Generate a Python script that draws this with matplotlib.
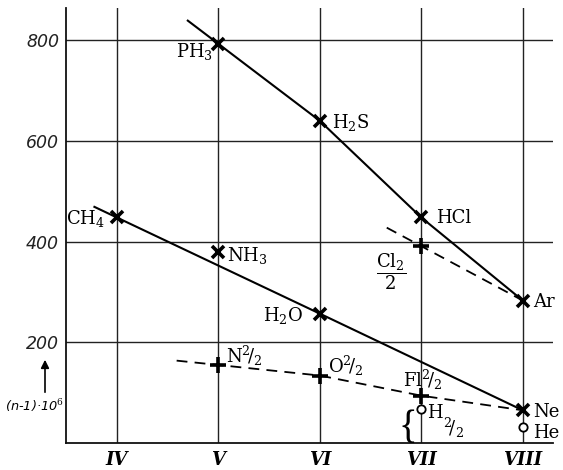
import matplotlib
matplotlib.use('Agg')
import matplotlib.pyplot as plt
import numpy as np

# ---------------- data ----------------
group_labels = ['IV', 'V', 'VI', 'VII', 'VIII']
group_pos = [4, 5, 6, 7, 8]
y_ticks = [200, 400, 600, 800]

# upper solid line: hydrides of 3rd period + Ar
upper_names = ['PH$_3$', 'H$_2$S', 'HCl', 'Ar']
upper_x = [5, 6, 7, 8]
upper_y = [793, 640, 448, 283]

# lower solid line: hydrides of 2nd period + Ne
lower_names = ['CH$_4$', 'NH$_3$', 'H$_2$O', 'Ne']
lower_x = [4, 5, 6, 8]
lower_y = [448, 380, 257, 65]
lower_line_members = ['CH$_4$', 'H$_2$O', 'Ne']

# halved diatomic elements (+ markers)
half_names = ['N$^2\\!/_2$', 'O$^2\\!/_2$', 'Fl$^2\\!/_2$']
half_x = [5, 6, 7]
half_y = [155, 134, 94]

cl_name = '$\\dfrac{\\mathrm{Cl}_2}{2}$'
cl_x = [7]
cl_y = [391]

# light gases (open circles)
light_names = ['H', 'He']
light_x = [7, 8]
light_y = [67, 32]

y_label = '(n-1)·10$^{6}$'

# ---------------- figure ----------------
plt.rcParams['font.family'] = ['DejaVu Serif']
plt.rcParams['mathtext.fontset'] = 'dejavuserif'

fig = plt.figure(figsize=(5.63, 4.70), dpi=100)
ax = fig.add_axes([66 / 563, 27 / 470, 487.2 / 563, 435 / 470])
ax.set_xlim(3.5, 8.3)
ax.set_ylim(0, 864)

for s in ['top', 'right']:
    ax.spines[s].set_visible(False)
for s in ['left', 'bottom']:
    ax.spines[s].set_linewidth(1.3)
    ax.spines[s].set_color('#111111')

grid_kw = dict(color='#222222', lw=1.0, zorder=1)
for yv in y_ticks:
    ax.axhline(yv, **grid_kw)
for xv in group_pos:
    ax.axvline(xv, **grid_kw)

ax.set_xticks(group_pos)
ax.set_xticklabels(group_labels, fontsize=13, fontweight='bold', style='italic',
                   family='DejaVu Serif')
ax.set_yticks(y_ticks)
ax.set_yticklabels([str(v) for v in y_ticks], fontsize=12.5, style='italic',
                   family='DejaVu Sans', color='#222222')
ax.tick_params(axis='both', length=0)
ax.tick_params(axis='x', pad=6)
ax.tick_params(axis='y', pad=5)


def extended(xs, ys, x_start):
    xs = list(xs)
    ys = list(ys)
    slope = (ys[1] - ys[0]) / (xs[1] - xs[0])
    return [x_start] + xs, [ys[0] + slope * (x_start - xs[0])] + ys


# upper solid line
lx, ly = extended(upper_x, upper_y, 4.7)
ax.plot(lx, ly, color='black', lw=1.5, zorder=3)

# lower solid line (through CH4, H2O, Ne)
sel = [lower_names.index(n) for n in lower_line_members]
lx, ly = extended([lower_x[i] for i in sel], [lower_y[i] for i in sel], 3.78)
ax.plot(lx, ly, color='black', lw=1.5, zorder=3)

# lower dashed line: halves -> Ne
lx, ly = extended(half_x + [lower_x[-1]], half_y + [lower_y[-1]], 4.59)
ax.plot(lx, ly, color='black', lw=1.3, ls=(0, (6, 4)), zorder=3)

# upper dashed line: Cl2/2 -> Ar
lx, ly = extended(cl_x + [upper_x[-1]], cl_y + [upper_y[-1]], 6.66)
ax.plot(lx, ly, color='black', lw=1.3, ls=(0, (6, 4)), zorder=3)

# markers
xkw = dict(ls='none', marker='x', ms=9, mew=2.6, color='black', zorder=5)
ax.plot(upper_x, upper_y, **xkw)
ax.plot(lower_x, lower_y, **xkw)
pkw = dict(ls='none', marker='+', ms=11, mew=2.6, color='black', zorder=5)
ax.plot(half_x, half_y, **pkw)
ax.plot(cl_x, cl_y, **pkw)
ax.plot(light_x, light_y, ls='none', marker='o', ms=6, mew=1.3,
        mfc='white', mec='black', zorder=5)

# labels
lab_fs = 13
upper_off = {'PH$_3$': (-5, -13, 'right'), 'H$_2$S': (12, -7, 'left'),
             'HCl': (15, -6, 'left'), 'Ar': (10, -6, 'left')}
for n, x, y in zip(upper_names, upper_x, upper_y):
    dx, dy, ha = upper_off[n]
    ax.annotate(n, (x, y), xytext=(dx, dy), textcoords='offset pixels',
                ha=ha, va='baseline', fontsize=lab_fs, zorder=6)

lower_off = {'CH$_4$': (-12, -7, 'right'), 'NH$_3$': (9, -9, 'left'),
             'H$_2$O': (-17, -7, 'right'), 'Ne': (10, -7, 'left')}
for n, x, y in zip(lower_names, lower_x, lower_y):
    dx, dy, ha = lower_off[n]
    ax.annotate(n, (x, y), xytext=(dx, dy), textcoords='offset pixels',
                ha=ha, va='baseline', fontsize=lab_fs, zorder=6)

half_off = [(8, 2), (8, 3), (-18, 9)]
for n, x, y, (dx, dy) in zip(half_names, half_x, half_y, half_off):
    ax.annotate(n, (x, y), xytext=(dx, dy), textcoords='offset pixels',
                ha='left', va='baseline', fontsize=lab_fs, zorder=6)

ax.annotate(cl_name, (cl_x[0], cl_y[0]), xytext=(-30, -5),
            textcoords='offset pixels', ha='center', va='top',
            fontsize=lab_fs, zorder=6)

light_off = [(6, -9), (10, -11)]
for n, x, y, (dx, dy) in zip(light_names, light_x, light_y, light_off):
    ax.annotate(n, (x, y), xytext=(dx, dy), textcoords='offset pixels',
                ha='left', va='baseline', fontsize=lab_fs, zorder=6)
# fraction for H2/2
ax.annotate('$^2\\!/_2$', (light_x[0], light_y[0]), xytext=(22, -26),
            textcoords='offset pixels', ha='left', va='baseline',
            fontsize=lab_fs, zorder=6)
# brace
ax.annotate('{', (light_x[0], light_y[0]), xytext=(-13, -19),
            textcoords='offset pixels', ha='center', va='center',
            fontsize=28, family='Liberation Serif', zorder=6)

# y-axis label with arrow
fig.text(34 / 563, 1 - 406 / 470, y_label, ha='center', va='center',
         fontsize=9.3, style='italic', family='DejaVu Sans')
ax.annotate('', xy=(45, 470 - 357), xycoords='figure pixels',
            xytext=(45, 470 - 395), textcoords='figure pixels',
            arrowprops=dict(arrowstyle='-|>', color='black', lw=1.2,
                            mutation_scale=12))

fig.savefig('out.png', dpi=100, facecolor='white')
